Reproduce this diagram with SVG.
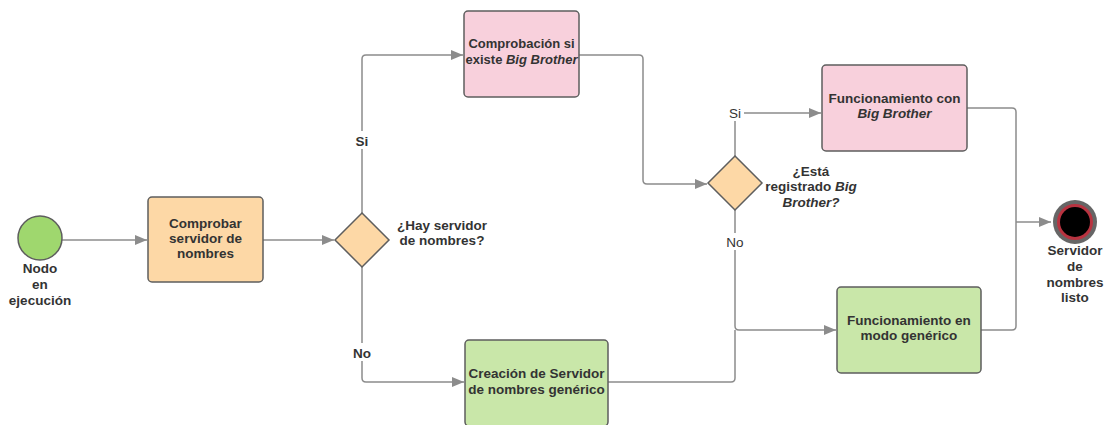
<svg xmlns="http://www.w3.org/2000/svg" width="1109" height="425" viewBox="0 0 1109 425">
  <style>
    .box { stroke: #5e5e5e; stroke-width: 1.5; }
    .orange { fill: #fdd8a6; }
    .pink { fill: #f8d0dc; }
    .green { fill: #c9e7a9; }
    .lbl { font-family: "Liberation Sans", Arial, sans-serif; font-size: 13.5px; font-weight: bold; fill: #333333; text-anchor: middle; }
    .sm { font-size: 13px; }
    .edge { fill: none; stroke: #8c8c8c; stroke-width: 1.5; }
    .elbl { font-family: "Liberation Sans", Arial, sans-serif; font-size: 13.5px; fill: #333333; text-anchor: middle; }
    .b { font-weight: bold; }
    .bg { fill: #ffffff; }
  </style>
  <defs>
    <marker id="arrow" viewBox="0 0 12 10" refX="12" refY="5" markerWidth="12" markerHeight="10" markerUnits="userSpaceOnUse" orient="auto">
      <path d="M0,0 L12,5 L0,10 Z" fill="#8c8c8c"/>
    </marker>
  </defs>

  <rect width="1109" height="425" fill="#ffffff"/>

  <!-- connectors -->
  <g id="connectors">
    <path class="edge" d="M62,240 H147" marker-end="url(#arrow)"/>
    <path class="edge" d="M263,240 H334" marker-end="url(#arrow)"/>
    <path class="edge" d="M362,213 V59 Q362,55 366,55 H463" marker-end="url(#arrow)"/>
    <path class="edge" d="M362,267 V378 Q362,382 366,382 H464" marker-end="url(#arrow)"/>
    <path class="edge" d="M579,55 H639 Q643,55 643,59 V180 Q643,184 647,184 H707" marker-end="url(#arrow)"/>
    <path class="edge" d="M735,156 V113 H821" marker-end="url(#arrow)"/>
    <path class="edge" d="M735,210 V326 Q735,330 739,330 H836" marker-end="url(#arrow)"/>
    <path class="edge" d="M608,382 H731 Q735,382 735,378 V330"/>
    <path class="edge" d="M967,108 H1012 Q1016,108 1016,112 V222"/>
    <path class="edge" d="M981,330 H1012 Q1016,330 1016,326 V222"/>
    <path class="edge" d="M1016,222 H1051" marker-end="url(#arrow)"/>

    <rect class="bg" x="352" y="131" width="20" height="18"/>
    <text class="elbl b" x="362" y="146">Si</text>
    <rect class="bg" x="350" y="343" width="24" height="18"/>
    <text class="elbl b" x="362" y="358">No</text>
    <rect class="bg" x="726" y="104" width="18" height="17"/>
    <text class="elbl" x="735" y="118">Si</text>
    <rect class="bg" x="724" y="233" width="22" height="17"/>
    <text class="elbl" x="735" y="247">No</text>
  </g>

  <!-- start event -->
  <g id="start">
    <circle cx="40" cy="238" r="22" fill="#9fd76e" stroke="#5e5e5e" stroke-width="1.5"/>
    <text class="lbl" x="40" y="273">Nodo</text>
    <text class="lbl" x="40" y="289">en</text>
    <text class="lbl" x="40" y="305">ejecución</text>
  </g>

  <g id="comprobar">
    <rect class="box orange" x="148" y="197" width="115" height="85" rx="4"/>
    <text class="lbl" x="205.5" y="228">Comprobar</text>
    <text class="lbl" x="205.5" y="243">servidor de</text>
    <text class="lbl" x="205.5" y="258">nombres</text>
  </g>

  <g id="hay-servidor">
    <polygon class="box orange" points="362,213 389,240 362,267 335,240"/>
    <text class="lbl" x="442" y="230">¿Hay servidor</text>
    <text class="lbl" x="442" y="245">de nombres?</text>
  </g>

  <g id="comprobacion-bb">
    <rect class="box pink" x="464" y="11" width="115" height="86" rx="4"/>
    <text class="lbl sm" x="521.5" y="48">Comprobación si</text>
    <text class="lbl sm" x="521.5" y="64">existe <tspan font-style="italic">Big Brother</tspan></text>
  </g>

  <g id="creacion">
    <rect class="box green" x="465" y="340" width="143" height="86" rx="4"/>
    <text class="lbl" x="536.5" y="378">Creación de Servidor</text>
    <text class="lbl" x="536.5" y="394">de nombres genérico</text>
  </g>

  <g id="esta-registrado">
    <polygon class="box orange" points="735,156 762,183 735,210 708,183"/>
    <text class="lbl" x="811" y="176">¿Está</text>
    <text class="lbl" x="811" y="191">registrado <tspan font-style="italic">Big</tspan></text>
    <text class="lbl" x="811" y="207" font-style="italic">Brother?</text>
  </g>

  <g id="funcionamiento-bb">
    <rect class="box pink" x="822" y="65" width="145" height="86" rx="4"/>
    <text class="lbl" x="894.5" y="103">Funcionamiento con</text>
    <text class="lbl" x="894.5" y="118" font-style="italic">Big Brother</text>
  </g>

  <g id="funcionamiento-generico">
    <rect class="box green" x="837" y="287" width="144" height="86" rx="4"/>
    <text class="lbl" x="909" y="325">Funcionamiento en</text>
    <text class="lbl" x="909" y="340">modo genérico</text>
  </g>

  <!-- end event -->
  <g id="end">
    <circle cx="1075" cy="222" r="22" fill="#666666"/>
    <circle cx="1075" cy="222" r="18" fill="#b83340"/>
    <circle cx="1075" cy="222" r="15" fill="#000000"/>
    <text class="lbl" x="1075" y="255">Servidor</text>
    <text class="lbl" x="1075" y="271">de</text>
    <text class="lbl" x="1075" y="287">nombres</text>
    <text class="lbl" x="1075" y="302">listo</text>
  </g>
</svg>
